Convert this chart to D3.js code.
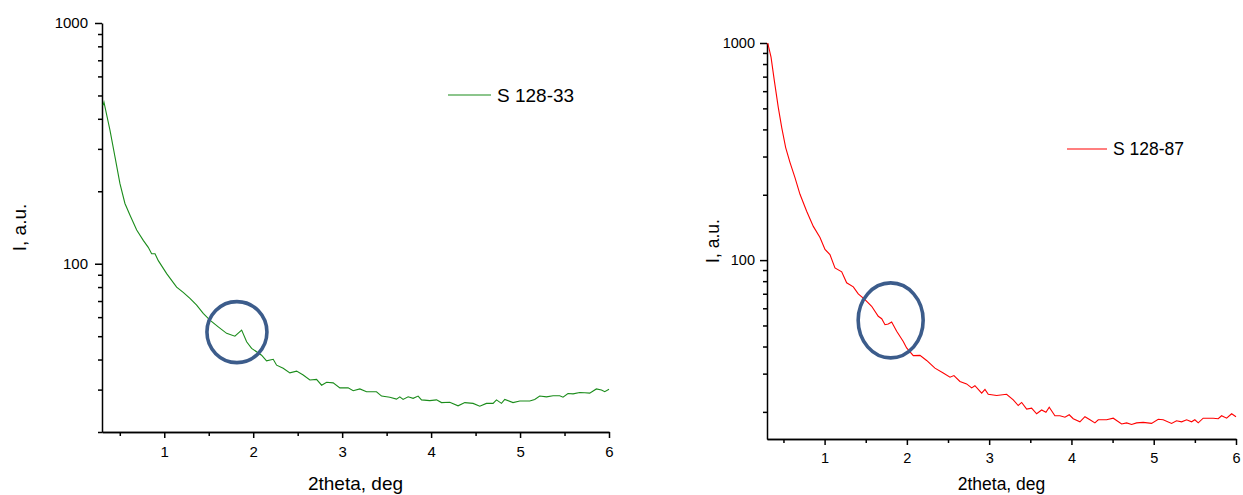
<!DOCTYPE html>
<html lang="en">
<head>
  <meta charset="UTF-8">
  <title>SAXS curves S 128-33 / S 128-87</title>
  <script src="https://d3js.org/d3.v7.min.js"></script>
  <style>
    body { margin: 0; background: #fff; }
    svg { display: block; font-family: "Liberation Sans", Arial, sans-serif; }
    .axis path, .axis line { stroke: #000; stroke-width: 1.5px; }
    .axis text { fill: #000; }
  </style>
</head>
<body>
  <script>
    // --- data (2theta, deg / intensity, a.u.) ---
    const theta33 = [0.311, 0.322, 0.39, 0.446, 0.502, 0.558, 0.615, 0.69, 0.764, 0.82, 0.858, 0.896, 0.933,
      1.027, 1.139, 1.213, 1.289, 1.364, 1.438, 1.513, 1.607, 1.701, 1.794, 1.87, 1.926, 1.982, 2.094, 2.15,
      2.225, 2.263, 2.337, 2.412, 2.488, 2.562, 2.637, 2.712, 2.769, 2.825, 2.899, 2.974, 3.067, 3.124, 3.199,
      3.274, 3.386, 3.443, 3.536, 3.611, 3.648, 3.685, 3.742, 3.798, 3.854, 3.892, 3.985, 4.061, 4.117, 4.21,
      4.303, 4.379, 4.472, 4.547, 4.622, 4.697, 4.735, 4.791, 4.828, 4.921, 4.997, 5.109, 5.165, 5.221, 5.297,
      5.371, 5.446, 5.483, 5.539, 5.596, 5.671, 5.727, 5.783, 5.858, 5.915, 5.952, 6.0];
    const int33 = [455, 469, 358, 278, 215, 178, 159, 138, 125, 117, 110, 110, 103,
      91, 80, 76, 71.8, 67.3, 62.2, 58.3, 54.7, 51.4, 50.0, 53.0, 47.4, 44.5, 41.7, 39.5,
      40.1, 37.9, 36.8, 35.2, 35.8, 34.5, 32.9, 33.1, 31.3, 32.2, 32.0, 30.5, 30.5, 29.7, 30.2,
      29.4, 29.4, 28.2, 27.9, 27.4, 28.0, 27.3, 28.0, 27.6, 28.2, 27.2, 27.0, 27.2, 26.5, 26.6,
      25.7, 26.5, 26.3, 25.6, 26.3, 26.3, 27.2, 26.3, 27.3, 26.5, 26.9, 26.9, 27.3, 28.2, 28.0,
      28.3, 28.3, 27.9, 28.9, 28.8, 29.2, 29.1, 29.0, 30.2, 29.9, 29.4, 30.1];

    const theta87 = [0.309, 0.349, 0.389, 0.437, 0.479, 0.527, 0.579, 0.64, 0.701, 0.782, 0.863, 0.944, 1.005,
      1.065, 1.126, 1.208, 1.268, 1.349, 1.409, 1.491, 1.572, 1.652, 1.694, 1.734, 1.774, 1.815, 1.876, 1.956,
      1.997, 2.078, 2.159, 2.24, 2.341, 2.442, 2.524, 2.572, 2.645, 2.726, 2.787, 2.827, 2.909, 2.949, 2.989,
      3.091, 3.212, 3.293, 3.353, 3.395, 3.456, 3.516, 3.577, 3.638, 3.69, 3.73, 3.799, 3.86, 3.921, 3.973,
      4.022, 4.103, 4.164, 4.225, 4.285, 4.326, 4.428, 4.508, 4.61, 4.671, 4.731, 4.792, 4.872, 4.974, 5.055,
      5.115, 5.217, 5.277, 5.339, 5.4, 5.46, 5.5, 5.541, 5.601, 5.723, 5.784, 5.825, 5.886, 5.947, 6.0];
    const int87 = [1000, 860, 671, 505, 408, 330, 282, 240, 201, 168, 143, 127, 112,
      106, 92.1, 88.3, 78.6, 75.3, 69.9, 65.8, 61.3, 55.1, 53.7, 50.4, 50.8, 51.9, 47.0, 42.2,
      39.4, 36.3, 36.4, 34.5, 31.8, 30.2, 28.9, 29.4, 27.6, 26.9, 25.8, 26.4, 24.4, 25.4, 24.1,
      23.8, 24.1, 22.7, 21.4, 22.1, 20.6, 20.8, 19.6, 20.4, 19.9, 21.0, 19.2, 19.2, 18.9, 19.4,
      18.6, 18.0, 19.0, 18.4, 17.8, 18.4, 18.4, 18.7, 17.6, 17.8, 17.5, 17.8, 17.9, 17.7, 18.5,
      18.4, 17.7, 18.2, 18.0, 18.4, 18.0, 18.4, 17.8, 18.7, 18.7, 18.6, 19.2, 18.7, 19.6, 19.0];

    const xMajor = [1, 2, 3, 4, 5, 6];
    const xMinor = [0.5, 1.5, 2.5, 3.5, 4.5, 5.5];
    const yMajor = [100, 1000];
    const yMinor33 = [20, 30, 40, 50, 60, 70, 80, 90, 200, 300, 400, 500, 600, 700, 800, 900];
    const yMinor87 = [20, 30, 40, 50, 60, 70, 80, 90, 200, 300, 400, 500, 600, 700, 800, 900];

    // highlighted feature near 2theta ~ 1.8
    const mark33 = [1.817, 52.0];
    const mark87 = [1.803, 52.8];

    const W = 1243, H = 495;
    const svg = d3.select('body').append('svg')
      .attr('width', W)
      .attr('height', H);

    function drawPanel(p) {
      const x = d3.scaleLinear().domain([0.3, 6]).range([p.left, p.right]);
      const y = d3.scaleLog().domain(p.yDomain).range([p.bottom, p.top]);
      const g = svg.append('g');

      // minor ticks first, then major ones with labels
      g.append('g').attr('class', 'axis')
        .attr('transform', `translate(0,${p.bottom})`)
        .call(d3.axisBottom(x).tickValues(xMinor).tickSize(4).tickSizeOuter(0).tickFormat(''));
      g.append('g').attr('class', 'axis')
        .attr('transform', `translate(0,${p.bottom})`)
        .call(d3.axisBottom(x).tickValues(xMajor).tickSize(6).tickSizeOuter(0).tickFormat(d3.format('d')))
        .call(a => a.selectAll('text')
          .attr('y', p.xLabelDy).attr('dy', '0.35em')
          .style('font-size', p.tickFont + 'px'));

      g.append('g').attr('class', 'axis')
        .attr('transform', `translate(${p.left},0)`)
        .call(d3.axisLeft(y).tickValues(p.yMinor).tickSize(4).tickSizeOuter(0).tickFormat(''))
        .call(a => a.select('.domain').remove());
      g.append('g').attr('class', 'axis')
        .attr('transform', `translate(${p.left},0)`)
        .call(d3.axisLeft(y).tickValues(yMajor).tickSize(7).tickSizeOuter(0).tickFormat(d3.format('d')))
        .call(a => a.selectAll('text')
          .attr('x', -p.yLabelGap)
          .style('font-size', p.tickFont + 'px'));

      // curve
      const line = d3.line()
        .x((d, i) => x(p.xs[i]))
        .y(d => y(d));
      g.append('path')
        .datum(p.ys)
        .attr('d', line)
        .attr('fill', 'none')
        .attr('stroke', p.color)
        .attr('stroke-width', 1.1);

      // circled feature
      g.append('ellipse')
        .attr('cx', x(p.mark[0]))
        .attr('cy', y(p.mark[1]))
        .attr('rx', p.rx)
        .attr('ry', p.ry)
        .attr('fill', 'none')
        .attr('stroke', '#3c5c8b')
        .attr('stroke-width', 3.6);

      // axis titles
      g.append('text')
        .attr('x', (p.left + p.right) / 2)
        .attr('y', p.xTitleY)
        .attr('text-anchor', 'middle')
        .attr('dy', '0.35em')
        .style('font-size', p.titleFont + 'px')
        .text('2theta, deg');
      g.append('text')
        .attr('transform', `translate(${p.yTitleX},${(p.top + p.bottom) / 2}) rotate(-90)`)
        .attr('text-anchor', 'middle')
        .attr('dy', '0.35em')
        .style('font-size', p.titleFont + 'px')
        .text('I, a.u.');

      // legend
      g.append('line')
        .attr('x1', p.legX).attr('x2', p.legX + p.legLen)
        .attr('y1', p.legY).attr('y2', p.legY)
        .attr('stroke', p.color)
        .attr('stroke-width', 1.1);
      g.append('text')
        .attr('x', p.legX + p.legLen + 6)
        .attr('y', p.legY)
        .attr('dy', '0.35em')
        .style('font-size', p.titleFont + 'px')
        .text(p.name);
    }

    drawPanel({
      xs: theta33, ys: int33, name: 'S 128-33', color: '#1b8c1b',
      yDomain: [20, 1000], yMinor: yMinor33, mark: mark33, rx: 30, ry: 30.5,
      left: 102, right: 609, top: 23, bottom: 432,
      tickFont: 15, titleFont: 19, xLabelDy: 20, yLabelGap: 14,
      xTitleY: 483, yTitleX: 19,
      legX: 448, legY: 95, legLen: 43
    });

    drawPanel({
      xs: theta87, ys: int87, name: 'S 128-87', color: '#ff0000',
      yDomain: [15, 1000], yMinor: yMinor87, mark: mark87, rx: 32.5, ry: 37.5,
      left: 767, right: 1236, top: 43, bottom: 439,
      tickFont: 14.5, titleFont: 17.5, xLabelDy: 19, yLabelGap: 12,
      xTitleY: 484, yTitleX: 713,
      legX: 1067, legY: 149, legLen: 40
    });
  </script>
</body>
</html>
